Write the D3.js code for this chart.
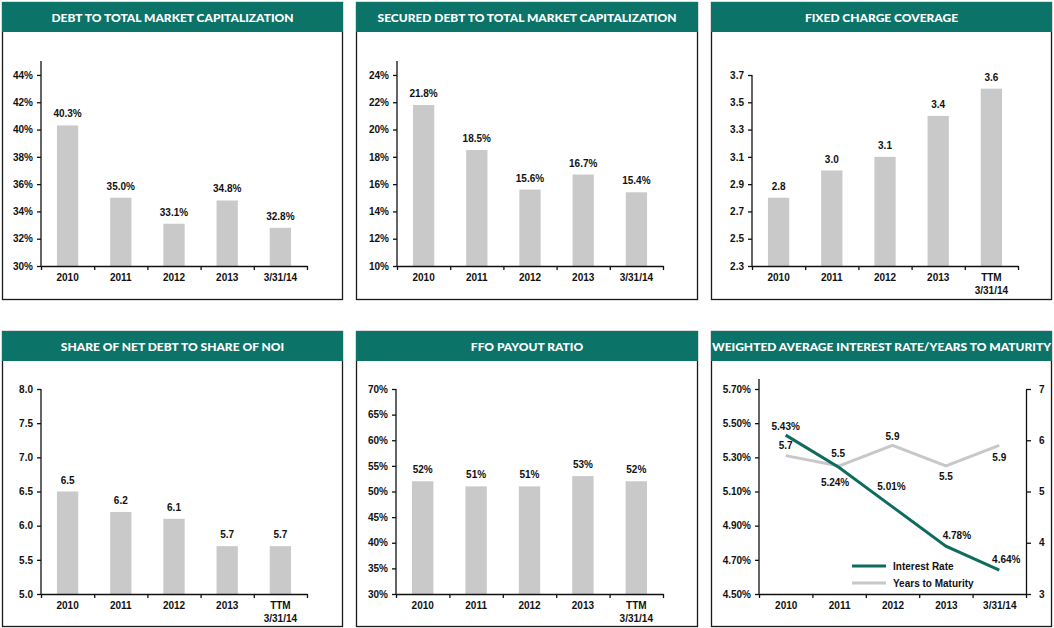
<!DOCTYPE html>
<html>
<head>
<meta charset="utf-8">
<script src="https://cdn.jsdelivr.net/npm/d3@7"></script>
<style>
  html, body { margin: 0; padding: 0; background: #ffffff; }
  svg { display: block; }
  .tick text, .lbl { font-family: "Liberation Sans", Arial, sans-serif; font-weight: bold; font-size: 10px; fill: #111; }
  .title { font-family: "Lato", sans-serif; font-weight: 900; font-size: 12px; fill: #ffffff; }
  .legend { font-family: "Liberation Sans", Arial, sans-serif; font-weight: bold; font-size: 10px; fill: #111; }
</style>
</head>
<body>
<svg id="chart" width="1054" height="628"></svg>
<script>
// ---------- data ----------
const categories = ["2010", "2011", "2012", "2013", "3/31/14"];
const categoriesTTM = ["2010", "2011", "2012", "2013", "TTM|3/31/14"];

const debtToMarketCap = [40.3, 35.0, 33.1, 34.8, 32.8];
const securedDebtToMarketCap = [21.8, 18.5, 15.6, 16.7, 15.4];
const fixedChargeCoverage = [2.8, 3.0, 3.1, 3.4, 3.6];
const netDebtToNOI = [6.5, 6.2, 6.1, 5.7, 5.7];
const ffoPayoutRatio = [52, 51, 51, 53, 52];
const interestRate = [5.43, 5.24, 5.01, 4.78, 4.64];
const yearsToMaturity = [5.7, 5.5, 5.9, 5.5, 5.9];

const debtTicks = [30, 32, 34, 36, 38, 40, 42, 44];
const securedTicks = [10, 12, 14, 16, 18, 20, 22, 24];
const coverageTicks = [2.3, 2.5, 2.7, 2.9, 3.1, 3.3, 3.5, 3.7];
const noiTicks = [5.0, 5.5, 6.0, 6.5, 7.0, 7.5, 8.0];
const ffoTicks = [30, 35, 40, 45, 50, 55, 60, 65, 70];
const rateTicks = [4.5, 4.7, 4.9, 5.1, 5.3, 5.5, 5.7];
const maturityTicks = [3, 4, 5, 6, 7];

const titles = [
  "DEBT TO TOTAL MARKET CAPITALIZATION",
  "SECURED DEBT TO TOTAL MARKET CAPITALIZATION",
  "FIXED CHARGE COVERAGE",
  "SHARE OF NET DEBT TO SHARE OF NOI",
  "FFO PAYOUT RATIO",
  "WEIGHTED AVERAGE INTEREST RATE/YEARS TO MATURITY"
];
const legendLabels = ["Interest Rate", "Years to Maturity"];

// ---------- styles ----------
const TEAL = "#0b7367";
const LINE_TEAL = "#0e6b60";
const BAR = "#c9c9c9";
const GRAY_LINE = "#c8c8c8";

const svg = d3.select("#chart");

// panel frames
const panels = [
  {x: 2, y: 2, w: 340, h: 297},
  {x: 356, y: 2, w: 341, h: 297},
  {x: 711, y: 2, w: 340, h: 297},
  {x: 2, y: 331, w: 340, h: 295},
  {x: 356, y: 331, w: 341, h: 295},
  {x: 711, y: 331, w: 340, h: 295}
];
panels.forEach((p, i) => {
  svg.append("rect").attr("x", p.x + 0.5).attr("y", p.y + 0.5)
    .attr("width", p.w).attr("height", p.h)
    .attr("fill", "#fff").attr("stroke", "#1a1a1a").attr("stroke-width", 1.3);
  svg.append("rect").attr("x", p.x).attr("y", p.y)
    .attr("width", p.w + 1).attr("height", 30).attr("fill", TEAL);
  svg.append("text").attr("class", "title")
    .attr("x", p.x + p.w / 2 + 0.5).attr("y", p.y + 19.5)
    .attr("text-anchor", "middle").text(titles[i]);
});

function multiline(sel) {
  sel.each(function(d) {
    const t = d3.select(this);
    const parts = String(d).split("|");
    t.text(null);
    parts.forEach((s, k) => {
      t.append("tspan").attr("x", 0).attr("dy", k === 0 ? "0.71em" : "1.3em").text(s);
    });
  });
}

function barChart(opt) {
  const g = svg.append("g");
  const x = d3.scaleBand().domain(opt.cats).range([opt.x0, opt.x1]).paddingInner(0.6).paddingOuter(0.3);
  const xb = d3.scaleLinear().domain([0, opt.cats.length]).range([opt.x0, opt.x1]);
  const y = d3.scaleLinear().domain(opt.domain).range([opt.yBottom, opt.yTop]);

  // bars
  g.selectAll("rect.bar").data(opt.values).enter().append("rect")
    .attr("class", "bar")
    .attr("x", (d, i) => x(opt.cats[i]))
    .attr("width", x.bandwidth())
    .attr("y", d => y(d))
    .attr("height", d => y(opt.domain[0]) - y(d))
    .attr("fill", BAR);

  // value labels
  g.selectAll("text.lbl").data(opt.values).enter().append("text")
    .attr("class", "lbl")
    .attr("x", (d, i) => x(opt.cats[i]) + x.bandwidth() / 2)
    .attr("y", d => y(d) - 8)
    .attr("text-anchor", "middle")
    .text(opt.labelFmt);

  // y axis
  const ya = g.append("g").attr("transform", `translate(${opt.x0},0)`)
    .call(d3.axisLeft(y).tickValues(opt.ticks).tickFormat(opt.tickFmt).tickSize(4).tickSizeOuter(0).tickPadding(4));
  ya.select(".domain").remove();
  g.append("line").attr("x1", opt.x0).attr("x2", opt.x0)
    .attr("y1", opt.axisTop).attr("y2", opt.yBottom)
    .attr("stroke", "#111").attr("stroke-width", 1.3);

  // x axis boundary ticks
  const xt = g.append("g").attr("transform", `translate(0,${opt.yBottom})`)
    .call(d3.axisBottom(xb).tickValues(d3.range(opt.cats.length + 1)).tickSize(4).tickSizeOuter(0).tickFormat(""));
  xt.selectAll("path, line").attr("stroke", "#111").attr("stroke-width", 1.3);

  // x axis labels
  const xl = g.append("g").attr("transform", `translate(0,${opt.yBottom})`)
    .call(d3.axisBottom(x).tickSize(0).tickPadding(8));
  xl.select(".domain").remove();
  xl.selectAll(".tick text").call(multiline);

  ya.selectAll("line").attr("stroke", "#111").attr("stroke-width", 1.3);
}

const pct0 = d => d + "%";
barChart({cats: categories, values: debtToMarketCap, domain: [30, 45], ticks: debtTicks,
  tickFmt: pct0, labelFmt: d => d.toFixed(1) + "%",
  x0: 41, x1: 307, yBottom: 266, yTop: 61.3, axisTop: 61});
barChart({cats: categories, values: securedDebtToMarketCap, domain: [10, 25], ticks: securedTicks,
  tickFmt: pct0, labelFmt: d => d.toFixed(1) + "%",
  x0: 397, x1: 663, yBottom: 266, yTop: 61.3, axisTop: 61});
barChart({cats: categoriesTTM, values: fixedChargeCoverage, domain: [2.3, 3.7], ticks: coverageTicks,
  tickFmt: d3.format(".1f"), labelFmt: d => d.toFixed(1),
  x0: 752, x1: 1018, yBottom: 266, yTop: 75, axisTop: 75});
barChart({cats: categoriesTTM, values: netDebtToNOI, domain: [5, 8], ticks: noiTicks,
  tickFmt: d3.format(".1f"), labelFmt: d => d.toFixed(1),
  x0: 41, x1: 307, yBottom: 594, yTop: 389, axisTop: 389});
barChart({cats: categoriesTTM, values: ffoPayoutRatio, domain: [30, 70], ticks: ffoTicks,
  tickFmt: pct0, labelFmt: d => d + "%",
  x0: 396, x1: 663, yBottom: 594, yTop: 389, axisTop: 389});

// ---------- line chart ----------
(function() {
  const x0 = 759, x1 = 1026, yB = 594, yT = 389;
  const g = svg.append("g");
  const x = d3.scalePoint().domain(categories).range([x0, x1]).padding(0.5);
  const xb = d3.scaleLinear().domain([0, categories.length]).range([x0, x1]);
  const yL = d3.scaleLinear().domain([4.5, 5.7]).range([yB, yT]);
  const yR = d3.scaleLinear().domain([3, 7]).range([yB, yT]);

  const ya = g.append("g").attr("transform", `translate(${x0},0)`)
    .call(d3.axisLeft(yL).tickValues(rateTicks).tickFormat(d => d.toFixed(2) + "%").tickSize(4).tickSizeOuter(0).tickPadding(4));
  ya.select(".domain").remove();
  ya.selectAll("line").attr("stroke", "#111").attr("stroke-width", 1.3);
  g.append("line").attr("x1", x0).attr("x2", x0).attr("y1", 379).attr("y2", yB)
    .attr("stroke", "#111").attr("stroke-width", 1.3);

  const yr = g.append("g").attr("transform", `translate(${x1},0)`)
    .call(d3.axisRight(yR).tickValues(maturityTicks).tickFormat(d3.format("d")).tickSize(5).tickSizeOuter(0).tickPadding(8));
  yr.selectAll("path, line").attr("stroke", "#111").attr("stroke-width", 1.3);

  const xt = g.append("g").attr("transform", `translate(0,${yB})`)
    .call(d3.axisBottom(xb).tickValues(d3.range(categories.length + 1)).tickSize(4).tickSizeOuter(0).tickFormat(""));
  xt.selectAll("path, line").attr("stroke", "#111").attr("stroke-width", 1.3);
  const xl = g.append("g").attr("transform", `translate(0,${yB})`)
    .call(d3.axisBottom(x).tickSize(0).tickPadding(8));
  xl.select(".domain").remove();

  const lineMat = d3.line().x((d, i) => x(categories[i])).y(d => yR(d));
  const lineRate = d3.line().x((d, i) => x(categories[i])).y(d => yL(d));
  g.append("path").datum(yearsToMaturity).attr("d", lineMat)
    .attr("fill", "none").attr("stroke", GRAY_LINE).attr("stroke-width", 3);
  g.append("path").datum(interestRate).attr("d", lineRate)
    .attr("fill", "none").attr("stroke", LINE_TEAL).attr("stroke-width", 3);

  // label offsets (dx, dy relative to point)
  const rateOff = [[0, -5.5], [-4, 18.5], [-1, -16.5], [11, -7.5], [7, -7.5]];
  const matOff = [[0, -6.5], [-1, -8.5], [0, -5.5], [0, 14.5], [0, 15.5]];
  g.selectAll("text.rl").data(interestRate).enter().append("text")
    .attr("class", "lbl").attr("text-anchor", "middle")
    .attr("x", (d, i) => x(categories[i]) + rateOff[i][0])
    .attr("y", (d, i) => yL(d) + rateOff[i][1])
    .text(d => d.toFixed(2) + "%");
  g.selectAll("text.ml").data(yearsToMaturity).enter().append("text")
    .attr("class", "lbl").attr("text-anchor", "middle")
    .attr("x", (d, i) => x(categories[i]) + matOff[i][0])
    .attr("y", (d, i) => yR(d) + matOff[i][1])
    .text(d => d.toFixed(1));

  // legend
  const lg = [LINE_TEAL, GRAY_LINE];
  legendLabels.forEach((lab, i) => {
    const ly = 566 + i * 17;
    g.append("line").attr("x1", 852).attr("x2", 886).attr("y1", ly).attr("y2", ly)
      .attr("stroke", lg[i]).attr("stroke-width", 3);
    g.append("text").attr("class", "legend").attr("x", 893).attr("y", ly + 3.5).text(lab);
  });
})();
</script>
</body>
</html>
